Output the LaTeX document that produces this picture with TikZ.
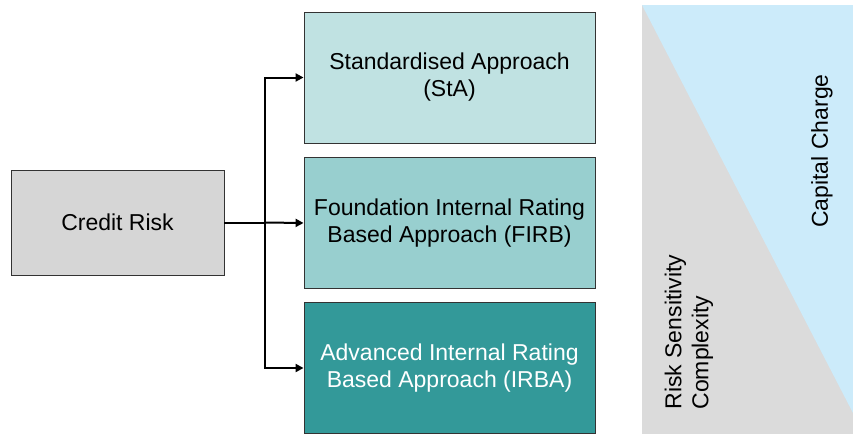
\documentclass[tikz,border=0pt]{standalone}
\usepackage{fontspec}
\setmainfont{Liberation Sans}
\usetikzlibrary{arrows.meta}
\definecolor{boxgray}{HTML}{D6D6D6}
\definecolor{staclr}{HTML}{C0E2E2}
\definecolor{firbclr}{HTML}{98CFCF}
\definecolor{irbaclr}{HTML}{339999}
\definecolor{backgray}{HTML}{DBDBDB}
\definecolor{backblue}{HTML}{CCEBFA}
\tikzset{
  apbox/.style={draw=black!80, line width=0.9pt, minimum width=291pt, minimum height=131pt,
    align=center, font=\fontsize{23}{27}\selectfont, inner sep=0pt},
  link/.style={line width=2pt, -{Triangle[length=8pt,width=8pt]}},
}
\begin{document}
\begin{tikzpicture}[x=1pt, y=-1pt]
   \useasboundingbox (0,0) rectangle (853,434);
   % right hand wedge
   \fill[backgray] (642,5) rectangle (853,434);
   \fill[backblue] (642,5) -- (853,5) -- (853,413) -- cycle;
   \node[rotate=90, font=\fontsize{23}{27}\selectfont] (cap) at (822,151) {Capital Charge};
   \node[rotate=90, align=left, anchor=west, font=\fontsize{23}{27}\selectfont] (risk) at (689,413) {Risk Sensitivity\\Complexity};
   % boxes
   \node[apbox, fill=boxgray, minimum width=213pt, minimum height=105pt] (credit) at (117.5,222.5) {Credit Risk};
   \node[apbox, fill=staclr] (sta) at (449.5,77.5) {Standardised Approach\\(StA)};
   \node[apbox, fill=firbclr] (firb) at (449.5,223) {Foundation Internal Rating\\Based Approach (FIRB)};
   \node[apbox, fill=irbaclr, text=white] (irba) at (449.5,368) {Advanced Internal Rating\\Based Approach (IRBA)};
   \coordinate (split) at (265,222.5);
   \draw[line width=2pt] (credit.east) -- (split);
   \draw[link] (split) |- (sta.west);
   \draw[link] (split) -- (firb.west);
   \draw[link] (split) |- (irba.west);
\end{tikzpicture}
\end{document}
